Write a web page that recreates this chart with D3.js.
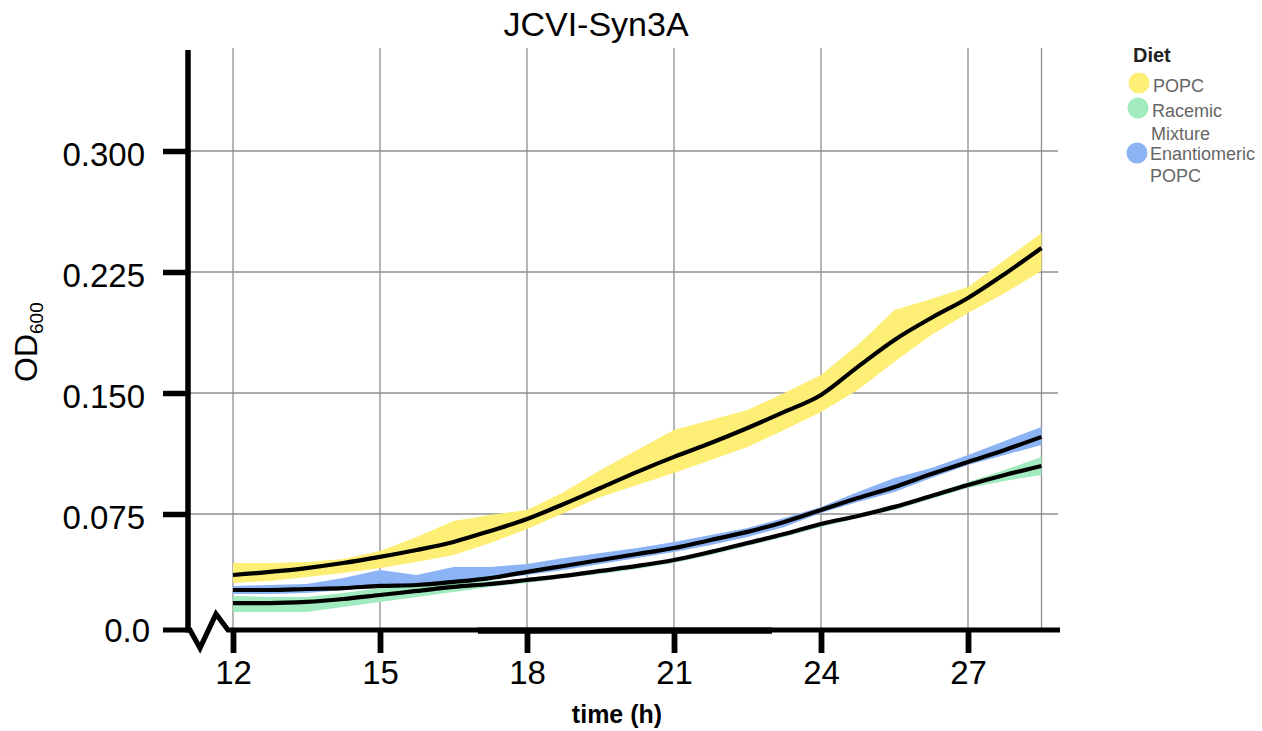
<!DOCTYPE html>
<html>
<head>
<meta charset="utf-8">
<script src="https://cdn.jsdelivr.net/npm/d3@7"></script>
<style>
  html, body { margin: 0; padding: 0; background: #fff; }
  svg { display: block; font-family: "Liberation Sans", Arial, Helvetica, sans-serif; }
</style>
</head>
<body>
<svg id="chart" width="1262" height="731"></svg>
<script>
// ---- data ----
const times = [12, 12.75, 13.5, 14.25, 15, 15.75, 16.5, 17.25, 18, 18.75, 19.5, 20.25, 21, 21.75, 22.5, 23.25, 24, 24.75, 25.5, 26.25, 27, 27.75, 28.5];

const popcMean = [0.0372, 0.0391, 0.0415, 0.0446, 0.0484, 0.0527, 0.0577, 0.0645, 0.0719, 0.0812, 0.0911, 0.1011, 0.1104, 0.1190, 0.1283, 0.1383, 0.1488, 0.1662, 0.1829, 0.1965, 0.2089, 0.2238, 0.2399];
const popcHi   = [0.0446, 0.0446, 0.0453, 0.0471, 0.0521, 0.0608, 0.0707, 0.0744, 0.0775, 0.0887, 0.1023, 0.1147, 0.1271, 0.1333, 0.1395, 0.1500, 0.1612, 0.1798, 0.2015, 0.2083, 0.2157, 0.2325, 0.2492];
const popcLo   = [0.0322, 0.0335, 0.0360, 0.0384, 0.0415, 0.0453, 0.0496, 0.0570, 0.0657, 0.0756, 0.0856, 0.0930, 0.1004, 0.1085, 0.1166, 0.1271, 0.1383, 0.1519, 0.1693, 0.1860, 0.1996, 0.2120, 0.2257];

const racMean  = [0.0198, 0.0198, 0.0205, 0.0223, 0.0248, 0.0273, 0.0298, 0.0316, 0.0341, 0.0366, 0.0397, 0.0428, 0.0465, 0.0515, 0.0570, 0.0626, 0.0688, 0.0738, 0.0794, 0.0862, 0.0930, 0.0992, 0.1048];
const racHi    = [0.0242, 0.0236, 0.0236, 0.0260, 0.0291, 0.0310, 0.0322, 0.0335, 0.0347, 0.0372, 0.0403, 0.0434, 0.0471, 0.0521, 0.0583, 0.0632, 0.0701, 0.0750, 0.0806, 0.0874, 0.0949, 0.1023, 0.1104];
const racLo    = [0.0143, 0.0143, 0.0143, 0.0174, 0.0205, 0.0236, 0.0267, 0.0298, 0.0322, 0.0353, 0.0378, 0.0409, 0.0446, 0.0496, 0.0552, 0.0608, 0.0670, 0.0725, 0.0775, 0.0843, 0.0911, 0.0955, 0.0992];

const enanMean = [0.0279, 0.0279, 0.0285, 0.0291, 0.0304, 0.0310, 0.0329, 0.0353, 0.0391, 0.0428, 0.0465, 0.0502, 0.0539, 0.0589, 0.0639, 0.0701, 0.0775, 0.0849, 0.0918, 0.0998, 0.1073, 0.1147, 0.1228];
const enanHi   = [0.0304, 0.0310, 0.0316, 0.0353, 0.0403, 0.0372, 0.0422, 0.0422, 0.0440, 0.0477, 0.0508, 0.0539, 0.0577, 0.0620, 0.0663, 0.0725, 0.0794, 0.0887, 0.0973, 0.1035, 0.1116, 0.1203, 0.1290];
const enanLo   = [0.0254, 0.0254, 0.0260, 0.0279, 0.0304, 0.0316, 0.0329, 0.0347, 0.0372, 0.0403, 0.0440, 0.0477, 0.0515, 0.0558, 0.0608, 0.0670, 0.0756, 0.0825, 0.0887, 0.0973, 0.1054, 0.1116, 0.1178];

const seriesNames  = ["POPC", "Racemic Mixture", "Enantiomeric POPC"];
const seriesLabels = [["POPC"], ["Racemic", "Mixture"], ["Enantiomeric", "POPC"]];
const seriesColors = ["#fdee75", "#a2eabf", "#8cb4f5"];

const xTicks = [12, 15, 18, 21, 24, 27];
const xGrid  = [12, 15, 18, 21, 24, 27, 28.5];
const yTicks = [0.075, 0.150, 0.225, 0.300];
const yTickLabels = ["0.075", "0.150", "0.225", "0.300"];
const zeroLabel = "0.0";

// ---- layout ----
const svg = d3.select("#chart");
const x = d3.scaleLinear().domain([12, 28.5]).range([233, 1041.5]);
const y = d3.scaleLinear().domain([0, 0.3]).range([635, 151]);
const axisY = 630;      // drawn x-axis position
const yAxisX = 188;
const plotTop = 48;
const gridRight = 1058;

// gridlines
const grid = svg.append("g").attr("stroke", "#8f8f8f").attr("stroke-width", 1.3);
grid.selectAll("line.h").data(yTicks).join("line")
  .attr("x1", yAxisX).attr("x2", gridRight)
  .attr("y1", d => y(d)).attr("y2", d => y(d));
grid.selectAll("line.v").data(xGrid).join("line")
  .attr("x1", d => x(d)).attr("x2", d => x(d))
  .attr("y1", plotTop).attr("y2", axisY);

// bands
const bands = [
  [popcLo, popcHi],
  [racLo, racHi],
  [enanLo, enanHi]
];
const area = d3.area()
  .x((d, i) => x(times[i]))
  .y0(d => y(d[0]))
  .y1(d => y(d[1]))
  .curve(d3.curveLinear);
bands.forEach((b, k) => {
  const pts = times.map((t, i) => [b[0][i], b[1][i]]);
  svg.append("path").datum(pts)
    .attr("d", area)
    .attr("fill", seriesColors[k]);
});

// mean lines
const means = [popcMean, racMean, enanMean];
const line = d3.line()
  .x((d, i) => x(times[i]))
  .y(d => y(d))
  .curve(d3.curveMonotoneX);
means.forEach(m => {
  svg.append("path").datum(m)
    .attr("d", line)
    .attr("fill", "none")
    .attr("stroke", "#000")
    .attr("stroke-width", 4.2)
    .attr("stroke-linejoin", "round");
});

// y axis
const yAxis = d3.axisLeft(y).tickValues(yTicks)
  .tickFormat((d, i) => yTickLabels[i])
  .tickSize(25).tickPadding(18);
const gy = svg.append("g").attr("transform", `translate(${yAxisX},0)`).call(yAxis);
gy.select(".domain").remove();
gy.selectAll(".tick line").attr("stroke", "#000").attr("stroke-width", 5.5);
gy.selectAll(".tick text").attr("font-size", 33).attr("fill", "#000")
  .attr("font-family", "Liberation Sans, Arial, sans-serif").attr("dy", "0.44em");
svg.append("line")
  .attr("x1", yAxisX).attr("x2", yAxisX)
  .attr("y1", 50).attr("y2", axisY + 2.5)
  .attr("stroke", "#000").attr("stroke-width", 5.5);

// zero label
svg.append("text").attr("x", 150).attr("y", axisY + 12)
  .attr("text-anchor", "end").attr("font-size", 33).attr("fill", "#000")
  .text(zeroLabel);

// x axis line with break
const xa = svg.append("g").attr("fill", "none").attr("stroke", "#000").attr("stroke-width", 5.2).attr("stroke-linejoin", "miter");
xa.append("path").attr("d", `M163,${axisY} L190,${axisY} L200,${axisY + 18} L216,${axisY - 16} L228,${axisY} L1060,${axisY}`);
xa.append("line").attr("x1", x(17)).attr("x2", x(23))
  .attr("y1", axisY + 0.6).attr("y2", axisY + 0.6).attr("stroke-width", 6.2);

const xAxis = d3.axisBottom(x).tickValues(xTicks).tickFormat(d3.format("d"))
  .tickSize(23).tickPadding(8);
const gx = svg.append("g").attr("transform", `translate(0,${axisY})`).call(xAxis);
gx.select(".domain").remove();
gx.selectAll(".tick line").attr("stroke", "#000").attr("stroke-width", 5.8);
gx.selectAll(".tick text").attr("font-size", 33).attr("fill", "#000")
  .attr("font-family", "Liberation Sans, Arial, sans-serif");

// title
svg.append("text").attr("x", 596).attr("y", 36).attr("text-anchor", "middle")
  .attr("font-size", 34).attr("fill", "#000").text("JCVI-Syn3A");

// x label
svg.append("text").attr("x", 617).attr("y", 723).attr("text-anchor", "middle")
  .attr("font-size", 25).attr("font-weight", "bold").attr("fill", "#000").text("time (h)");

// y label
const yl = svg.append("text").attr("transform", "translate(37,382) rotate(-90)")
  .attr("fill", "#000");
yl.append("tspan").attr("font-size", 32).text("OD");
yl.append("tspan").attr("font-size", 19).attr("dy", 6).text("600");

// legend
const leg = svg.append("g");
leg.append("text").attr("x", 1133).attr("y", 62).attr("font-size", 20)
  .attr("font-weight", "bold").attr("fill", "#222").text("Diet");
const legCircles = [[1139, 83], [1138, 108], [1137, 153]];
const legText = [[[1153, 92]], [[1152, 117], [1151, 140]], [[1150, 160], [1150, 182]]];
seriesNames.forEach((n, k) => {
  leg.append("circle").attr("cx", legCircles[k][0]).attr("cy", legCircles[k][1])
    .attr("r", 10.5).attr("fill", seriesColors[k]);
  seriesLabels[k].forEach((s, j) => {
    leg.append("text").attr("x", legText[k][j][0]).attr("y", legText[k][j][1])
      .attr("font-size", 18).attr("fill", "#666").text(s);
  });
});
</script>
</body>
</html>
